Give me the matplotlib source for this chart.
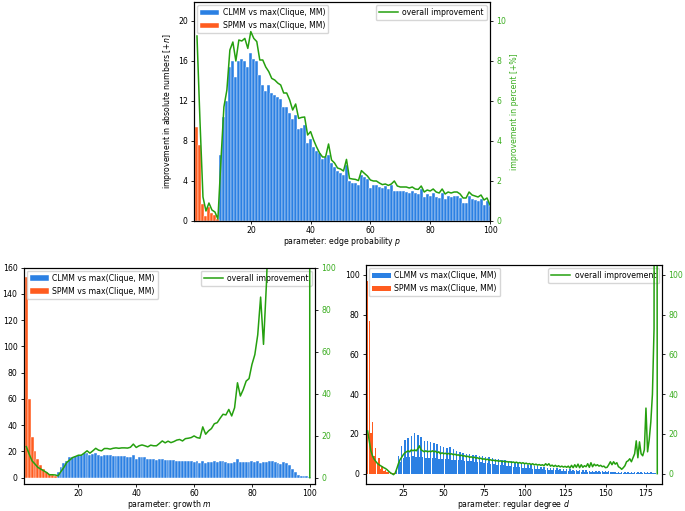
import numpy as np
import matplotlib
matplotlib.use("Agg")
import matplotlib.pyplot as plt

# ---------------- data ----------------
# Top chart: edge probability p
top_orange_start = 2
top_orange = [9.4, 7.6, 1.7, 0.5, 1.4, 0.8, 0.6, 0.2]
top_blue_start = 10
top_blue = [6.6, 10.4, 12.0, 15.4, 16.0, 14.4, 16.0, 16.2, 16.0, 15.4,
            16.8, 16.2, 16.0, 14.6, 13.6, 13.0, 13.6, 12.8, 12.6, 12.4,
            12.2, 11.4, 11.4, 10.8, 10.2, 10.6, 9.2, 9.3, 9.6, 7.8,
            8.2, 7.4, 7.0, 6.8, 6.2, 6.4, 6.6, 5.8, 5.4, 5.0,
            4.8, 4.6, 5.6, 4.0, 3.8, 3.8, 3.6, 4.6, 4.4, 4.2,
            3.3, 3.6, 3.6, 3.4, 3.3, 3.5, 3.2, 3.6, 3.0, 3.0,
            3.0, 3.0, 2.9, 2.8, 3.0, 2.8, 2.7, 3.2, 2.4, 2.7,
            2.5, 2.8, 2.4, 2.3, 2.8, 2.2, 2.5, 2.4, 2.5, 2.5,
            2.3, 1.8, 1.8, 2.5, 2.2, 2.1, 2.0, 2.2, 1.6, 2.0, 1.5]
top_line_start = 2
top_line = [9.25, 5.0, 1.2, 0.5, 0.9, 0.55, 0.45, 0.1, 3.0,
            5.7, 6.55, 8.55, 8.95, 8.0, 9.05, 9.0, 9.13, 8.63, 9.47,
            9.13, 8.97, 8.05, 8.05, 7.7, 7.47, 7.13, 7.05, 6.9, 6.8,
            6.4, 6.4, 6.05, 5.55, 5.85, 5.13, 5.18, 5.2, 4.3, 4.47,
            4.05, 3.7, 3.4, 3.2, 3.2, 3.85, 3.05, 2.9, 2.65, 2.6,
            2.5, 3.08, 2.13, 2.1, 2.08, 2.02, 2.52, 2.38, 2.25, 2.05,
            2.0, 2.0, 1.9, 1.82, 1.85, 1.78, 1.85, 2.0, 1.75, 1.7,
            1.7, 1.7, 1.65, 1.7, 1.6, 1.58, 1.75, 1.45, 1.55, 1.5,
            1.6, 1.45, 1.4, 1.6, 1.35, 1.45, 1.4, 1.45, 1.45, 1.35,
            1.15, 1.15, 1.45, 1.3, 1.25, 1.2, 1.3, 1.05, 1.15, 0.8]

# Bottom-left: growth m
bl_orange_start = 2
bl_orange = [153, 60, 31, 20.5, 14.5, 9.6, 7, 4, 2.8, 2.2, 1.5]
bl_blue_start = 13
bl_blue = [4, 8, 11.5, 13, 16, 16, 16.5, 17, 17.5, 19,
           18.5, 17, 18, 19, 17.5, 16.5, 17.5, 17.5, 17, 16.5,
           16.5, 16.8, 16.5, 16.5, 16, 16, 17, 14.5, 15.5, 15.5,
           15.5, 14.5, 14, 14, 13.5, 14, 14.5, 13.5, 13.8, 13.5,
           13.5, 12.5, 13, 13, 12.5, 12.5, 12.5, 12, 12.5, 11,
           12.5, 11.5, 12, 12, 12.5, 12, 12.5, 12.5, 12, 11.5,
           11, 12, 14, 12, 12, 12, 12, 12.5, 12, 12.5,
           11, 12, 12, 12.5, 12.5, 12, 11, 10.5, 12, 11,
           10, 7, 4, 2, 1, 1, 1, 0.5]
bl_line_start = 2
bl_line = [14.8, 11.2, 8, 6.5, 4.9, 4.1, 3.3, 2.5, 1.4, 1.4, 1.3, 0.9,
           3, 4.9, 7.3, 8.4, 9.6, 10.1, 10.7, 10.7, 11.7, 12.8, 11.7,
           12.8, 14, 13.1, 12.8, 13.9, 13.9, 13.6, 14, 14.2, 14, 14.2,
           14.2, 14.1, 14.5, 16, 14.4, 15.2, 15.6, 15.2, 14.7, 15.5,
           15.2, 15.2, 16.3, 17.5, 16.6, 17.4, 16.7, 17.2, 17.9, 18.2,
           17.5, 18.6, 18.8, 19.1, 19.9, 19.1, 18.8, 24.2, 20.7, 22.3,
           23.4, 25.7, 26.2, 28.3, 30.2, 29.9, 32.5, 29.4, 33.3, 45.2,
           38.9, 42, 46, 47.2, 53.9, 58.6, 68, 86, 63.5, 92, 130,
           150, 170, 200, 230, 260, 300, 350, 420, 500, 650, 900, 1500, 5000, 0]

# Bottom-right: regular degree d
br_orange_start = 3
br_orange = [97, 77, 20.5, 26, 9, 12.7, 5.5, 8, 2.5, 4, 1.5, 2, 0.8, 1,
             0.4, 0.3, 0.1, 0.1]
br_blue_start = 21
br_blue = [3, 9, 6, 14, 8, 17, 8.5, 18, 8.5, 19,
           9, 20.5, 8.5, 19.5, 8.5, 18.5, 8.5, 16.5, 8, 16.5,
           8, 16, 8, 15.5, 7.8, 15, 7.5, 14, 7.5, 13.5,
           7.5, 13, 7.2, 13.2, 7, 12.5, 7, 11.5, 6.8, 11,
           6.8, 10.5, 6.5, 10, 6.5, 9.8, 6.2, 9.5, 6, 9.2,
           6, 9, 5.8, 8.7, 5.5, 8.5, 5.3, 8.2, 5, 7.8,
           4.8, 7.5, 4.6, 7.2, 4.4, 7, 4.2, 6.8, 4, 6.5,
           3.8, 6.2, 3.6, 6, 3.4, 5.6, 3.2, 5.2, 3, 4.8,
           2.8, 4.5, 2.6, 4.2, 2.5, 4, 2.4, 3.8, 2.2, 3.5,
           2.1, 3.3, 2, 3.1, 1.9, 3, 1.8, 2.8, 1.7, 2.7,
           1.6, 2.5, 1.5, 2.4, 1.4, 2.2, 1.3, 2.1, 1.2, 2,
           1.2, 1.9, 1.1, 1.8, 1, 1.7, 1, 1.6, 0.9, 1.5,
           0.9, 1.4, 0.8, 1.3, 0.8, 1.3, 0.7, 1.2, 0.7, 1.1,
           0.6, 1.1, 0.6, 1, 0.6, 1, 0.5, 0.9, 0.5, 0.9,
           0.5, 0.8, 0.4, 0.8, 0.4, 0.8, 0.4, 0.7, 0.4, 0.7,
           0.3, 0.7, 0.3, 0.6, 0.3, 0.6, 0.3, 0.6, 0.3, 0.5,
           0.2, 0.5]
br_line_start = 3
br_line = [21.5, 16.5, 11.5, 9, 7.3, 6.2, 5.2, 4.5, 4, 3.5,
           3, 2.6, 2, 1.2, 0.5, 0, -0.5, 0.3, 2.5, 5,
           7, 8.2, 9.5, 10.5, 11, 11.5, 11, 12, 11.5, 12,
           11.5, 12.5, 14, 12, 11.5, 11, 11.5, 11, 11.3, 11,
           11.5, 11, 11.3, 10.5, 11, 10, 10.5, 10, 10.3, 9.8,
           10.2, 9.8, 10, 9.5, 9.8, 9.3, 9.5, 9, 9.3, 8.8,
           9, 8.5, 8.8, 8.2, 8.5, 8, 8.3, 7.8, 8, 7.5,
           7.8, 7.2, 7.5, 7, 7.3, 6.8, 7, 6.6, 6.8, 6.4,
           6.6, 6.2, 6.5, 6, 6.3, 5.9, 6.1, 5.8, 6, 5.6,
           5.9, 5.5, 5.8, 5.3, 5.6, 5.2, 5.5, 5, 5.3, 4.8,
           5.1, 4.6, 5, 4.4, 4.8, 4.3, 4.6, 4.2, 4.5, 4,
           5, 4.2, 5, 3.8, 4.3, 3.6, 4.2, 3.5, 4, 3.4,
           3.8, 3.3, 3.7, 3.2, 3.8, 2.8, 4.2, 3, 4.5, 3.2,
           4.8, 3, 4.5, 3.2, 4, 3.5, 5, 3.2, 5.5, 3.5,
           4.8, 4, 4.5, 3.8, 4.2, 3.5, 3.8, 3, 3.2, 4.5,
           6, 4.5, 6, 4.8, 5.5, 3.5, 3, 2.2, 3, 4,
           6, 6.5, 7.5, 6, 8, 10, 16.5, 8, 16, 10,
           9, 12, 33, 11, 17, 26, 40, 73, 1000, 0]

# ---------------- style ----------------
BLUE = "#2b80e3"
ORANGE = "#ff5c1f"
GREEN = "#25a00f"
GREEN_TXT = "#3aad1f"
FS = 5.6

plt.rcParams["font.family"] = ["DejaVu Sans"]
plt.rcParams["font.size"] = FS
plt.rcParams["axes.linewidth"] = 0.8
plt.rcParams["xtick.major.size"] = 2.5
plt.rcParams["ytick.major.size"] = 2.5
plt.rcParams["xtick.major.width"] = 0.6
plt.rcParams["ytick.major.width"] = 0.6
plt.rcParams["xtick.major.pad"] = 1.2
plt.rcParams["ytick.major.pad"] = 2

fig = plt.figure(figsize=(6.85, 5.11), dpi=100)


def panel(rect, ostart, ovals, bstart, bvals, lstart, lvals,
          xlim, ylim, y2lim, xticks, yticks, y2ticks, xlabel,
          ylabel=None, y2label=None, bw=1.0, elw=0.3):
    ax = fig.add_axes(rect)
    xo = np.arange(ostart, ostart + len(ovals))
    xb = np.arange(bstart, bstart + len(bvals))
    xl = np.arange(lstart, lstart + len(lvals))
    b1 = ax.bar(xb, bvals, width=bw, color=BLUE, edgecolor="white",
                linewidth=elw, label="CLMM vs max(Clique, MM)")
    b2 = ax.bar(xo, ovals, width=bw, color=ORANGE, edgecolor="white",
                linewidth=elw, label="SPMM vs max(Clique, MM)")
    ax.set_xlim(*xlim)
    ax.set_ylim(*ylim)
    ax.set_xticks(xticks)
    ax.set_yticks(yticks)
    ax.set_xlabel(xlabel, fontsize=FS, labelpad=0)
    if ylabel:
        ax.set_ylabel(ylabel, fontsize=FS, labelpad=3)
    ax2 = ax.twinx()
    ln, = ax2.plot(xl, lvals, color=GREEN, lw=1.1,
                   label="overall improvement")
    ax2.set_ylim(*y2lim)
    ax2.set_yticks(y2ticks)
    ax2.tick_params(axis="y", labelcolor=GREEN_TXT)
    if y2label:
        ax2.set_ylabel(y2label, color=GREEN_TXT, fontsize=FS, labelpad=3)
    leg1 = ax.legend(handles=[b1, b2], loc="upper left", fontsize=FS,
                     borderaxespad=0.4, handlelength=2.4,
                     handletextpad=0.5)
    ax.add_artist(leg1)
    ax.legend(handles=[ln], loc="upper right", fontsize=FS,
              borderaxespad=0.4, handlelength=2.4, handletextpad=0.6)
    return ax, ax2


# top
panel([194 / 685, 1 - 221 / 511, 296 / 685, 219 / 511],
      top_orange_start, top_orange, top_blue_start, top_blue,
      top_line_start, top_line,
      (1, 100), (0, 21.9), (0, 10.95),
      [20, 40, 60, 80, 100], [0, 4, 8, 12, 16, 20], [0, 2, 4, 6, 8, 10],
      "parameter: edge probability $p$",
      ylabel="improvement in absolute numbers [+$n$]",
      y2label="improvement in percent [+%]")

# bottom-left
panel([23.7 / 685, 1 - 484 / 511, 291.3 / 685, 216.3 / 511],
      bl_orange_start, bl_orange, bl_blue_start, bl_blue,
      bl_line_start, bl_line,
      (1.1, 101.8), (-4.8, 160), (-3.0, 100),
      [20, 40, 60, 80, 100], [0, 20, 40, 60, 80, 100, 120, 140, 160],
      [0, 20, 40, 60, 80, 100],
      "parameter: growth $m$")

# bottom-right
panel([365.7 / 685, 1 - 484 / 511, 296.6 / 685, 219 / 511],
      br_orange_start, br_orange, br_blue_start, br_blue,
      br_line_start, br_line,
      (1.8, 185.1), (-5.2, 105), (-5.2, 105),
      [25, 50, 75, 100, 125, 150, 175], [0, 20, 40, 60, 80, 100],
      [0, 20, 40, 60, 80, 100],
      "parameter: regular degree $d$", bw=0.9, elw=0.0)

fig.savefig("out.png", dpi=100)
